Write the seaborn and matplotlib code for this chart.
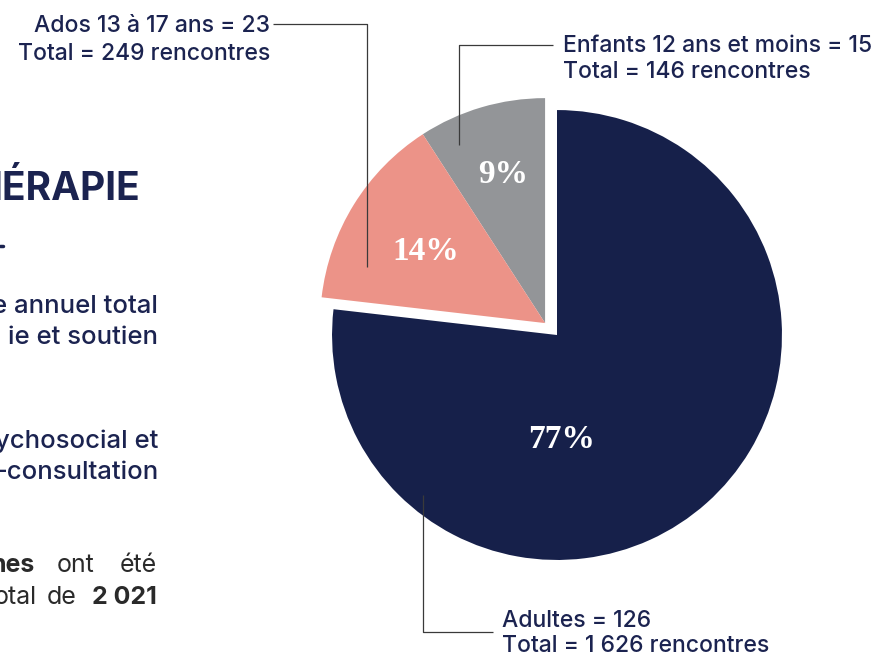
import matplotlib
matplotlib.use("Agg")
import matplotlib.pyplot as plt
import seaborn as sns

# data
groups = ["Enfants 12 ans et moins", "Ados 13 à 17 ans", "Adultes"]
persons = [15, 23, 126]
meetings = [146, 249, 1626]
colors = ["#939598", "#ec9388", "#16204a"]

sns.set_theme(style="white")
plt.rcParams["font.family"] = ["Inter", "DejaVu Sans"]

navy = "#1b2350"
ink = "#2a2a2a"

fig = plt.figure(figsize=(8.76, 6.59), dpi=100)
ax = fig.add_axes([0, 0, 1, 1])

wedges, _ = ax.pie(persons, colors=colors, startangle=90, counterclock=True,
                   radius=1, wedgeprops=dict(linewidth=0))
# the two small slices are pulled out together (up-left)
for w in wedges[:2]:
    w.set_center((-0.053, 0.053))

ax.set_xlim(-2.476, 1.418)
ax.set_ylim(-1.44, 1.489)
ax.set_aspect("equal")
ax.axis("off")

# percentages inside the slices
total = sum(persons)
pct_pos = [(-0.24, 0.676), (-0.582, 0.333), (0.022, -0.502)]
for v, (x, y) in zip(persons, pct_pos):
    ax.text(x, y, f"{round(100 * v / total)}%", ha="center", va="baseline",
            color="white", fontsize=24, fontweight="bold", family="Liberation Serif")

# leader lines + labels
leaders = [
    [(-0.436, 0.844), (-0.436, 1.289), (-0.018, 1.289)],
    [(-0.844, 0.302), (-0.844, 1.382), (-1.262, 1.382)],
    [(-0.596, -0.711), (-0.596, -1.32), (-0.284, -1.32)],
]
label_pos = [(0.027, 1.258, 1.142, "left"),
             (-1.276, 1.347, 1.222, "right"),
             (-0.244, -1.298, -1.409, "left")]
for g, p, m, pts, (x, y1, y2, ha) in zip(groups, persons, meetings, leaders, label_pos):
    xs, ys = zip(*pts)
    ax.plot(xs, ys, color="#3a3a3a", lw=0.9, solid_capstyle="butt")
    ax.text(x, y1, f"{g} = {p}", ha=ha, va="baseline", color=navy,
            fontsize=16.5, fontweight="medium")
    ax.text(x, y2, "Total = " + f"{m:,}".replace(",", " ") + " rencontres",
            ha=ha, va="baseline", color=navy, fontsize=16.5, fontweight="medium")

# page text cut off at the left edge
ax.text(-1.853, 0.6, "HÉRAPIE", ha="right", va="baseline", color=navy,
        fontsize=28, fontweight="bold")
ax.plot([-2.476, -2.462], [0.395, 0.395], color=navy, lw=2.5)
for txt, y in [("e annuel total", 0.098), ("ie et soutien", -0.04),
               ("ychosocial et", -0.502), ("-consultation", -0.64)]:
    ax.text(-1.773, y, txt, ha="right", va="baseline", color=navy,
            fontsize=18.5, fontweight="medium")

body = dict(va="baseline", color=ink, fontsize=18)
ax.text(-2.32, -1.053, "nes", ha="right", fontweight="bold", **body)
ax.text(-2.222, -1.053, "ont", ha="left", **body)
ax.text(-1.778, -1.053, "été", ha="right", **body)
ax.text(-2.311, -1.196, "otal", ha="right", **body)
ax.text(-2.267, -1.196, "de", ha="left", **body)
ax.text(-1.778, -1.196, "2 021", ha="right", fontweight="bold", **body)

fig.savefig("out.png", dpi=100, facecolor="white")
